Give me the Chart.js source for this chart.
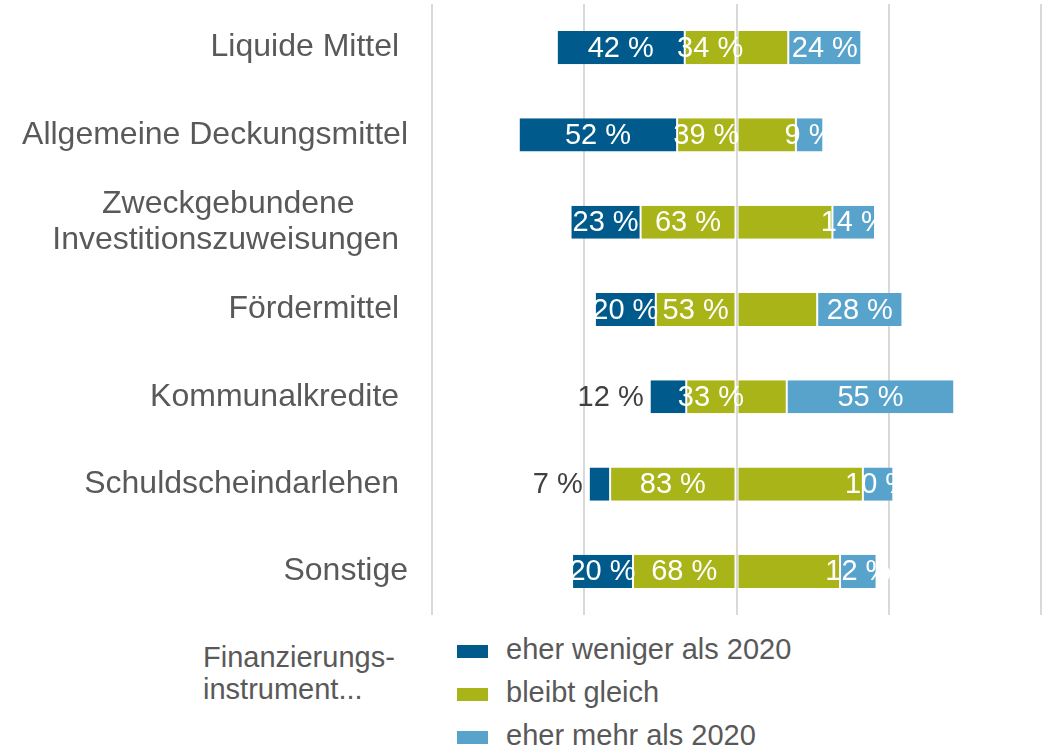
<!DOCTYPE html>
<html>
<head>
<meta charset="utf-8">
<script src="https://cdn.jsdelivr.net/npm/chart.js@4/dist/chart.umd.min.js"></script>
<style>
  body { margin: 0; background: #fff; font-family: "Liberation Sans", Arial, sans-serif; }
  #wrap { position: relative; width: 1047px; height: 750px; overflow: hidden; }
  #chart { position: absolute; left: 0; top: 0; }
  #legendTitle { position: absolute; left: 203px; top: 641px; font-size: 29px; line-height: 32px; color: #595959; }
  #legend { position: absolute; left: 457px; top: 631px; }
  .item { position: relative; height: 43px; font-size: 29px; color: #595959; }
  .item span.box { position: absolute; left: 0; top: 14px; width: 31px; height: 13px; }
  .item span.txt { position: absolute; left: 49px; top: 2px; white-space: nowrap; }
</style>
</head>
<body>
<div id="wrap">
  <canvas id="chart" width="1047" height="616"></canvas>
  <div id="legendTitle">Finanzierungs-<br>instrument...</div>
  <div id="legend"></div>
</div>
<script>
// Kategorien (Leerzeichen wie im Original)
const categories = [
    'Liquide Mittel ',
    'Allgemeine Deckungsmittel',
    ['Zweckgebundene      ', 'Investitionszuweisungen '],
    'Fördermittel ',
    'Kommunalkredite ',
    'Schuldscheindarlehen ',
    'Sonstige'
];
const seriesNames = ['eher weniger als 2020', 'bleibt gleich', 'eher mehr als 2020'];
const lessValues = [42, 52, 23, 20, 12, 7, 20];
const sameValues = [34, 39, 63, 53, 33, 83, 68];
const moreValues = [24, 9, 14, 28, 55, 10, 12];
const axisTicks = [-100, -50, 0, 50, 100];

const colors = ['#005b8c', '#a8b418', '#58a3cc'];

// Balken zentriert um die Mitte von "bleibt gleich"
const lessBars = lessValues.map((v, i) => [-(sameValues[i] / 2 + v), -sameValues[i] / 2]);
const sameLeft = sameValues.map(v => [-v / 2, 0]);
const sameRight = sameValues.map(v => [0, v / 2]);
const moreBars = moreValues.map((v, i) => [sameValues[i] / 2, sameValues[i] / 2 + v]);

const barStyle = {
    grouped: false,
    barPercentage: 0.38,
    categoryPercentage: 1,
    borderColor: 'rgba(0,0,0,0)',
    borderWidth: { left: 1, right: 1, top: 0, bottom: 0 },
    borderSkipped: false
};

// Datenbeschriftungen
const labelPlugin = {
    id: 'barLabels',
    afterDatasetsDraw(chart) {
        const ctx = chart.ctx;
        ctx.save();
        ctx.font = '29px "Liberation Sans", Arial, sans-serif';
        ctx.textBaseline = 'middle';
        chart.data.datasets.forEach((ds, di) => {
            if (!ds.values) return;
            const meta = chart.getDatasetMeta(di);
            meta.data.forEach((bar, i) => {
                const text = ds.values[i] + ' %';
                const left = Math.min(bar.x, bar.base);
                const right = Math.max(bar.x, bar.base);
                const w = ctx.measureText(text).width;
                if (ds.outside && right - left < w * 0.75) {
                    ctx.fillStyle = '#404040';
                    ctx.textAlign = 'right';
                    ctx.fillText(text, left - 6, bar.y + 1);
                } else {
                    ctx.fillStyle = '#ffffff';
                    ctx.textAlign = 'center';
                    ctx.fillText(text, (left + right) / 2, bar.y + 1);
                }
            });
        });
        ctx.restore();
    }
};

new Chart(document.getElementById('chart'), {
    type: 'bar',
    data: {
        labels: categories,
        datasets: [
            Object.assign({ label: seriesNames[0], data: lessBars, values: lessValues, outside: true, backgroundColor: colors[0] }, barStyle),
            Object.assign({ label: seriesNames[1], data: sameLeft, values: sameValues, backgroundColor: colors[1] }, barStyle),
            Object.assign({ label: seriesNames[1], data: sameRight, backgroundColor: colors[1] }, barStyle),
            Object.assign({ label: seriesNames[2], data: moreBars, values: moreValues, backgroundColor: colors[2] }, barStyle)
        ]
    },
    options: {
        indexAxis: 'y',
        responsive: false,
        animation: false,
        layout: { padding: { top: 4, right: 6, bottom: 1, left: 0 } },
        scales: {
            x: {
                min: axisTicks[0],
                max: axisTicks[axisTicks.length - 1],
                afterBuildTicks(scale) {
                    scale.ticks = axisTicks.map(v => ({ value: v }));
                },
                ticks: { display: false },
                grid: { color: '#d9d9d9', lineWidth: 2, drawTicks: false },
                border: { display: false },
                afterFit(scale) {
                    scale.height = 0;
                    scale.paddingLeft = 0;
                    scale.paddingRight = 0;
                }
            },
            y: {
                grid: { display: false },
                border: { display: false },
                ticks: {
                    padding: 16,
                    color: '#595959',
                    font: { family: '"Liberation Sans", Arial, sans-serif', size: 32, lineHeight: 1.1 }
                },
                afterFit(scale) {
                    scale.width = 432;
                    scale.paddingTop = 0;
                    scale.paddingBottom = 0;
                }
            }
        },
        plugins: {
            legend: { display: false },
            tooltip: { enabled: false }
        }
    },
    plugins: [labelPlugin]
});

// Legende
const legendEl = document.getElementById('legend');
seriesNames.forEach((name, i) => {
    const row = document.createElement('div');
    row.className = 'item';
    row.innerHTML = '<span class="box" style="background:' + colors[i] + '"></span><span class="txt">' + name + '</span>';
    legendEl.appendChild(row);
});
</script>
</body>
</html>
